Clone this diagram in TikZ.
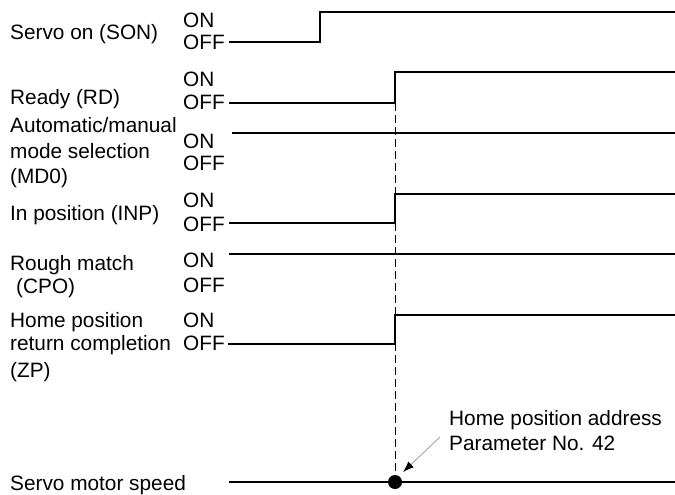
\documentclass[tikz,border=0pt]{standalone}
\usepackage{fontspec}
\setmainfont{Liberation Sans}
\usetikzlibrary{arrows.meta}
\begin{document}
\begin{tikzpicture}[x=1pt,y=-1pt,
  lbl/.style={anchor=base west, inner sep=0pt, font=\fontsize{20.8}{25}\selectfont},
  sig/.style={line width=2pt, line cap=butt, line join=miter},
  guide/.style={line width=1pt, dash pattern=on 8pt off 4pt},
  pointer/.style={draw=gray!70, line width=0.9pt, -{Latex[length=11pt,width=8pt,black]}}]
\useasboundingbox (0,0) rectangle (675,495);

% left labels
\node[lbl] (son) at (10,40) {Servo on (SON)};
\node[lbl] (rd) at (10,105) {Ready (RD)};
\node[lbl] (md1) at (10,132) {Automatic/manual};
\node[lbl] (md2) at (10,158) {mode selection};
\node[lbl] (md3) at (10,183) {(MD0)};
\node[lbl] (inp) at (10,220) {In position (INP)};
\node[lbl] (cpo1) at (10,270) {Rough match};
\node[lbl] (cpo2) at (16,293) {(CPO)};
\node[lbl] (zp1) at (10,327) {Home position};
\node[lbl] (zp2) at (10,350) {return completion};
\node[lbl] (zp3) at (10,377) {(ZP)};
\node[lbl] (spd) at (10,490) {Servo motor speed};

% ON / OFF
\node[lbl] (sonon) at (183,28) {ON};
\node[lbl] (sonoff) at (183,50) {OFF};
\node[lbl] (rdon) at (183,87) {ON};
\node[lbl] (rdoff) at (183,110) {OFF};
\node[lbl] (mdon) at (183,148) {ON};
\node[lbl] (mdoff) at (183,170) {OFF};
\node[lbl] (inpon) at (183,207) {ON};
\node[lbl] (inpoff) at (183,231) {OFF};
\node[lbl] (cpoon) at (183,267) {ON};
\node[lbl] (cpooff) at (183,292) {OFF};
\node[lbl] (zpon) at (183,327) {ON};
\node[lbl] (zpoff) at (183,350) {OFF};

% signals
\draw[sig] (229,42) -- (320,42) -- (320,12) -- (676,12);
\draw[sig] (229,103) -- (395,103) -- (395,72) -- (676,72);
\draw[sig] (232,133) -- (676,133);
\draw[sig] (229,223) -- (395,223) -- (395,194) -- (676,194);
\draw[sig] (229,254) -- (676,254);
\draw[sig] (228,344) -- (395,344) -- (395,315) -- (676,315);
\draw[sig] (229,482) -- (676,482);

% guide and dot
\coordinate (top) at (395,103);
\coordinate (zero) at (395,482);
\draw[guide] (top) -- (zero);
\fill (zero) circle (7pt);

% annotation
\node[lbl] (note1) at (449,425) {Home position address};
\node[lbl] (note2) at (449,450) {Parameter No. 42};
\coordinate (ptr) at (440,437);
\draw[pointer] (ptr) -- (403,472);
\end{tikzpicture}
\end{document}
